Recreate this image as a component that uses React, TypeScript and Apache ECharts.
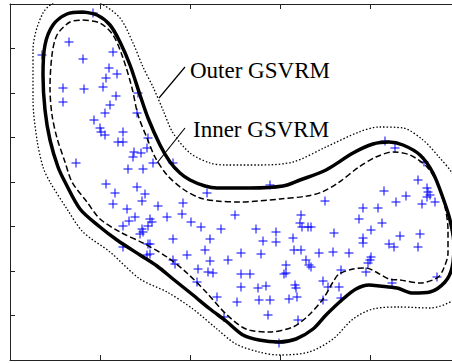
import { useEffect, useRef } from "react";
import * as echarts from "echarts";

// Outer GSVRM contour (thick solid)
const outerGsvrm: number[][] = [
  [73, 348], [87, 345], [100, 335], [110, 318], [120, 295], [130, 265], [138, 242], [150, 215],
  [160, 198], [170, 187], [180, 180], [195, 174], [207, 172], [240, 172], [273, 174], [290, 180],
  [316, 190], [343, 207], [363, 216], [379, 218], [393, 215], [410, 205], [423, 187], [433, 162],
  [440, 140], [444, 115], [442, 92], [435, 78], [420, 68], [403, 67], [387, 72], [370, 74],
  [359, 75], [346, 71], [333, 61], [316, 45], [303, 31], [286, 21], [269, 18], [249, 20],
  [233, 25], [216, 39], [200, 51], [183, 65], [163, 81], [147, 94], [130, 105], [107, 120],
  [90, 133], [70, 151], [55, 178], [48, 193], [40, 220], [35, 250], [33, 285], [35, 315],
  [43, 335], [57, 346], [73, 348],
];

// Inner GSVRM contour (dashed)
const innerGsvrm: number[][] = [
  [73, 340], [90, 337], [103, 325], [113, 302], [122, 272], [128, 245], [137, 222], [145, 203],
  [157, 185], [173, 171], [190, 162], [207, 159], [230, 158], [270, 161], [297, 164], [312, 168],
  [328, 177], [349, 193], [366, 203], [383, 208], [400, 205], [417, 193], [427, 177], [435, 153],
  [438, 130], [438, 107], [433, 90], [427, 82], [410, 77], [390, 80], [379, 81], [366, 88],
  [356, 92], [343, 91], [329, 86], [323, 78], [313, 61], [299, 45], [283, 33], [259, 28],
  [236, 31], [216, 46], [197, 67], [177, 87], [157, 103], [133, 117], [110, 128], [90, 141],
  [77, 158], [62, 178], [55, 198], [47, 222], [42, 245], [40, 272], [42, 305], [47, 325],
  [60, 338], [73, 340],
];

// Outermost contour (dotted)
const dottedContour: number[][] = [
  [70, 363], [90, 357], [110, 342], [123, 317], [133, 293], [143, 273], [153, 250], [163, 227],
  [180, 207], [200, 197], [216, 195], [249, 195], [283, 198], [316, 213], [349, 228], [369, 233],
  [393, 232], [413, 220], [429, 203], [442, 187], [452, 165], [458, 135], [458, 100], [450, 70],
  [442, 59], [420, 52], [389, 53], [363, 51], [343, 41], [323, 21], [299, 8], [269, 5],
  [249, 8], [226, 16], [207, 31], [183, 51], [157, 68], [130, 81], [100, 108], [73, 128],
  [57, 151], [40, 178], [33, 193], [27, 220], [23, 260], [23, 310], [33, 347], [50, 361],
  [70, 363],
];

// Sample points (blue +)
const samples: number[][] = [
  [83, 347], [59, 318], [103, 308], [32, 305], [73, 301], [99, 292], [107, 286], [96, 282],
  [93, 273], [53, 272], [74, 271], [128, 267], [106, 264], [53, 258], [100, 255], [95, 247],
  [127, 247], [84, 240], [90, 232], [91, 228], [95, 225], [113, 228], [108, 218], [113, 218],
  [138, 222], [137, 212], [124, 208], [131, 207], [123, 203], [143, 197], [163, 197], [66, 197],
  [118, 191], [133, 191], [96, 176], [105, 167], [127, 173], [135, 166], [132, 159], [103, 156],
  [148, 154], [117, 151], [125, 143], [119, 139], [113, 134], [140, 141], [142, 138], [138, 134],
  [157, 143], [173, 157], [172, 146], [181, 138], [191, 133], [197, 167], [132, 131], [133, 128],
  [130, 126], [163, 121], [138, 116], [140, 116], [113, 113], [137, 105], [140, 106], [177, 105],
  [163, 100], [165, 96], [188, 91], [195, 110], [200, 121], [200, 99], [198, 88], [203, 87],
  [211, 131], [187, 78], [207, 63], [214, 43], [227, 58], [260, 175], [315, 159], [225, 145],
  [291, 145], [290, 137], [292, 133], [298, 133], [301, 133], [246, 131], [266, 128], [266, 118],
  [253, 119], [283, 122], [324, 127], [218, 100], [231, 107], [251, 106], [284, 110], [291, 110],
  [309, 107], [323, 108], [339, 107], [296, 100], [299, 95], [301, 93], [276, 95], [274, 86],
  [276, 87], [231, 86], [240, 86], [331, 90], [313, 79], [318, 73], [329, 73], [231, 73],
  [248, 72], [256, 74], [285, 75], [286, 72], [287, 63], [279, 61], [249, 60], [260, 60],
  [313, 60], [331, 62], [258, 45], [288, 40], [269, 17], [375, 219], [385, 212], [414, 198],
  [408, 180], [417, 172], [418, 168], [417, 163], [420, 165], [412, 156], [425, 158], [374, 169],
  [396, 164], [386, 158], [353, 152], [368, 152], [349, 141], [372, 137], [361, 130], [353, 122],
  [353, 117], [390, 124], [410, 126], [379, 116], [384, 113], [408, 113], [361, 103], [360, 100],
  [358, 97], [356, 88], [427, 83], [382, 77],
];

const labels = ["Outer GSVRM", "Inner GSVRM"];

const plusPath = "path://M4,0H5V4H9V5H5V9H4V5H0V4H4Z";

function axis(pos: string, isX: boolean) {
  return {
    type: "value",
    position: pos,
    min: 0,
    max: isX ? 460 : 356,
    interval: isX ? 90 : 44.5,
    axisLine: { show: true, onZero: false, lineStyle: { color: "#222", width: 1 } },
    axisTick: { show: true, inside: true, length: 5, lineStyle: { color: "#222", width: 1 } },
    axisLabel: { show: false },
    splitLine: { show: false },
  };
}

export default function App() {
  const ref = useRef<HTMLDivElement>(null);
  useEffect(() => {
    document.body.style.margin = "0";
    document.body.style.overflow = "hidden";
    const chart = echarts.init(ref.current!, null, { renderer: "svg" });
    chart.setOption({
      animation: false,
      backgroundColor: "#fff",
      grid: { left: 10, top: 4, width: 460, height: 356, containLabel: false },
      xAxis: [axis("bottom", true), axis("top", true)],
      yAxis: [axis("left", false), axis("right", false)],
      series: [
        {
          type: "line",
          data: dottedContour,
          showSymbol: false,
          smooth: 0.3,
          clip: true,
          lineStyle: { color: "#000", width: 1.3, type: [1.5, 2] },
          silent: true,
        },
        {
          type: "line",
          data: outerGsvrm,
          showSymbol: false,
          smooth: 0.3,
          clip: true,
          lineStyle: { color: "#000", width: 3.5 },
          silent: true,
        },
        {
          type: "line",
          data: innerGsvrm,
          showSymbol: false,
          smooth: 0.3,
          clip: true,
          lineStyle: { color: "#000", width: 1.5, type: [6, 3] },
          silent: true,
        },
        {
          type: "scatter",
          data: samples,
          symbol: plusPath,
          symbolSize: 9,
          itemStyle: { color: "#0000ff", opacity: 1 },
          silent: true,
        },
      ],
      graphic: [
        {
          type: "line",
          shape: { x1: 185, y1: 67, x2: 159, y2: 98 },
          style: { stroke: "#000", lineWidth: 1.2 },
        },
        {
          type: "line",
          shape: { x1: 185, y1: 128, x2: 157, y2: 163 },
          style: { stroke: "#000", lineWidth: 1.2 },
        },
        {
          type: "text",
          x: 190,
          y: 70,
          style: {
            text: labels[0],
            fontFamily: "Liberation Serif",
            fontSize: 23,
            fill: "#000",
            verticalAlign: "middle",
            align: "left",
          },
        },
        {
          type: "text",
          x: 193,
          y: 129,
          style: {
            text: labels[1],
            fontFamily: "Liberation Serif",
            fontSize: 23,
            fill: "#000",
            verticalAlign: "middle",
            align: "left",
          },
        },
      ],
    });
    return () => chart.dispose();
  }, []);
  return <div ref={ref} style={{ width: 470, height: 363 }} />;
}
